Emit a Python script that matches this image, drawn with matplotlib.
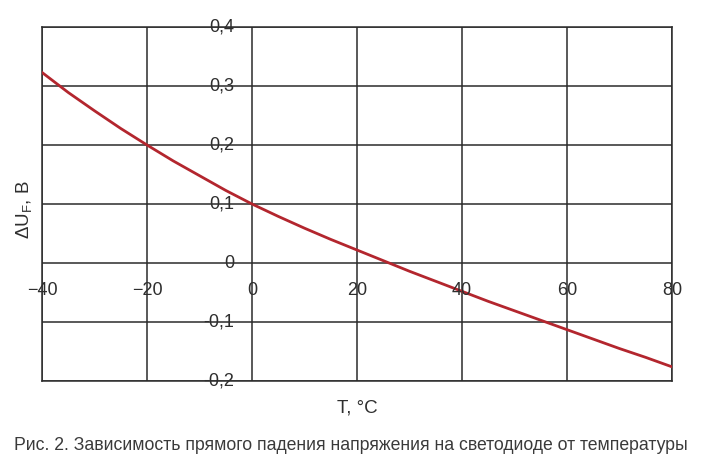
import matplotlib.pyplot as plt

# ---------------------------------------------------
# Data
# ---------------------------------------------------
temps = [-40, -35, -30, -25, -20, -15, -10, -5, 0, 5, 10, 15, 20, 25,
         30, 35, 40, 45, 50, 55, 60, 65, 70, 75, 80]
delta_uf = [0.323, 0.289, 0.258, 0.228, 0.200, 0.173, 0.148, 0.123,
            0.100, 0.079, 0.059, 0.040, 0.022, 0.004, -0.014, -0.031,
            -0.048, -0.065, -0.081, -0.097, -0.113, -0.129, -0.145,
            -0.160, -0.176]

x_ticks = [-40, -20, 0, 20, 40, 60, 80]
x_tick_labels = ['\u221240', '\u221220', '0', '20', '40', '60', '80']
y_ticks = [0.4, 0.3, 0.2, 0.1, 0.0, -0.1, -0.2]
y_tick_labels = ['0,4', '0,3', '0,2', '0,1', '0', '-0,1', '-0,2']

x_label = 'T, °C'
y_label = 'ΔU$_\\mathregular{F}$, B'
caption = 'Рис. 2. Зависимость прямого падения напряжения на светодиоде от температуры'

# ---------------------------------------------------
# Figure
# ---------------------------------------------------
plt.rcParams['font.family'] = ['Liberation Sans', 'DejaVu Sans']
text_color = '#2e2e2e'
grid_color = '#2b2b2b'

fig = plt.figure(figsize=(7.10, 4.69), dpi=100)
ax = fig.add_axes([42 / 710, 1 - 381 / 469, 630 / 710, 354 / 469])

ax.set_xlim(-40, 80)
ax.set_ylim(-0.2, 0.4)

# grid
for xv in x_ticks:
    ax.axvline(xv, color=grid_color, lw=1.1, zorder=1)
for yv in y_ticks:
    ax.axhline(yv, color=grid_color, lw=1.1, zorder=1)

for s in ax.spines.values():
    s.set_color(grid_color)
    s.set_linewidth(1.1)

ax.set_xticks([])
ax.set_yticks([])

# curve
ax.plot(temps, delta_uf, color='#b3262e', lw=2.0, zorder=3)

# tick labels placed inside the plot, as in the original
for xv, lab in zip(x_ticks, x_tick_labels):
    ax.text(xv, -0.046, lab, ha='center', va='center', fontsize=13,
            color=text_color, zorder=4)
for yv, lab in zip(y_ticks, y_tick_labels):
    ax.text(-3.4, yv, lab, ha='right', va='center', fontsize=13,
            color=text_color, zorder=4)

fig.text(25 / 710, 1 - 210 / 469, y_label, rotation=90, ha='center',
         va='center', fontsize=13.5, color=text_color)
fig.text(357 / 710, 1 - 408 / 469, x_label, ha='center', va='center',
         fontsize=13.5, color=text_color)
fig.text(351 / 710, 1 - 445 / 469, caption, ha='center', va='center',
         fontsize=12.7, color='#3a3a3a')

fig.savefig('out.png', dpi=100, facecolor='white')
